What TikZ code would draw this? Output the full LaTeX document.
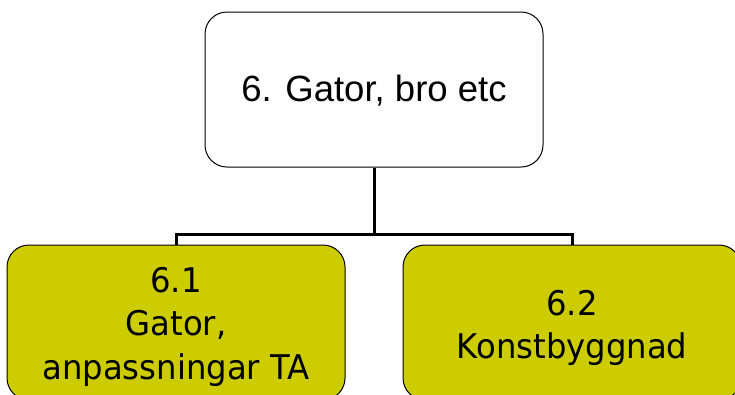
\documentclass[tikz,border=0pt]{standalone}
\usepackage{fontspec}
\newfontfamily\topfont{Liberation Sans}
\newfontfamily\subfont[FakeStretch=0.95]{DejaVu Sans}
\definecolor{olive}{RGB}{204,204,0}
\begin{document}
\begin{tikzpicture}[x=1pt,y=-1pt,
  topbox/.style={draw=black,line width=1pt,fill=white,rounded corners=22pt,minimum width=338pt,minimum height=155pt,inner sep=0pt},
  subbox/.style={draw=black,line width=1pt,fill=olive,rounded corners=22pt,minimum width=338pt,minimum height=155pt,inner sep=0pt},
  toptext/.style={font=\topfont\fontsize{36.5}{40}\selectfont,inner sep=0pt},
  subtext/.style={font=\subfont\fontsize{34}{43.5}\selectfont,align=center,inner sep=0pt},
  conn/.style={draw=black,line width=3pt}]
\useasboundingbox (0,0) rectangle (735,394);
\clip (0,0) rectangle (735,394);
\node[topbox] (top) at (374,89.5) {};
\node[subbox] (left) at (176,322.5) {};
\node[subbox] (right) at (572,322.5) {};
\coordinate (j) at (374,234);
\draw[conn] (top.south) -- (j);
\draw[conn] (left.north) |- (j) -| (right.north);
\node[toptext,anchor=base] (ttop) at (374,101) {6. Gator, bro etc};
\node[subtext,anchor=base] (tleft) at (176,379) {6.1\\Gator,\\anpassningar TA};
\node[subtext,anchor=base,font=\subfont\fontsize{34}{43}\selectfont] (tright) at (572,358) {6.2\\Konstbyggnad};
\end{tikzpicture}
\end{document}
